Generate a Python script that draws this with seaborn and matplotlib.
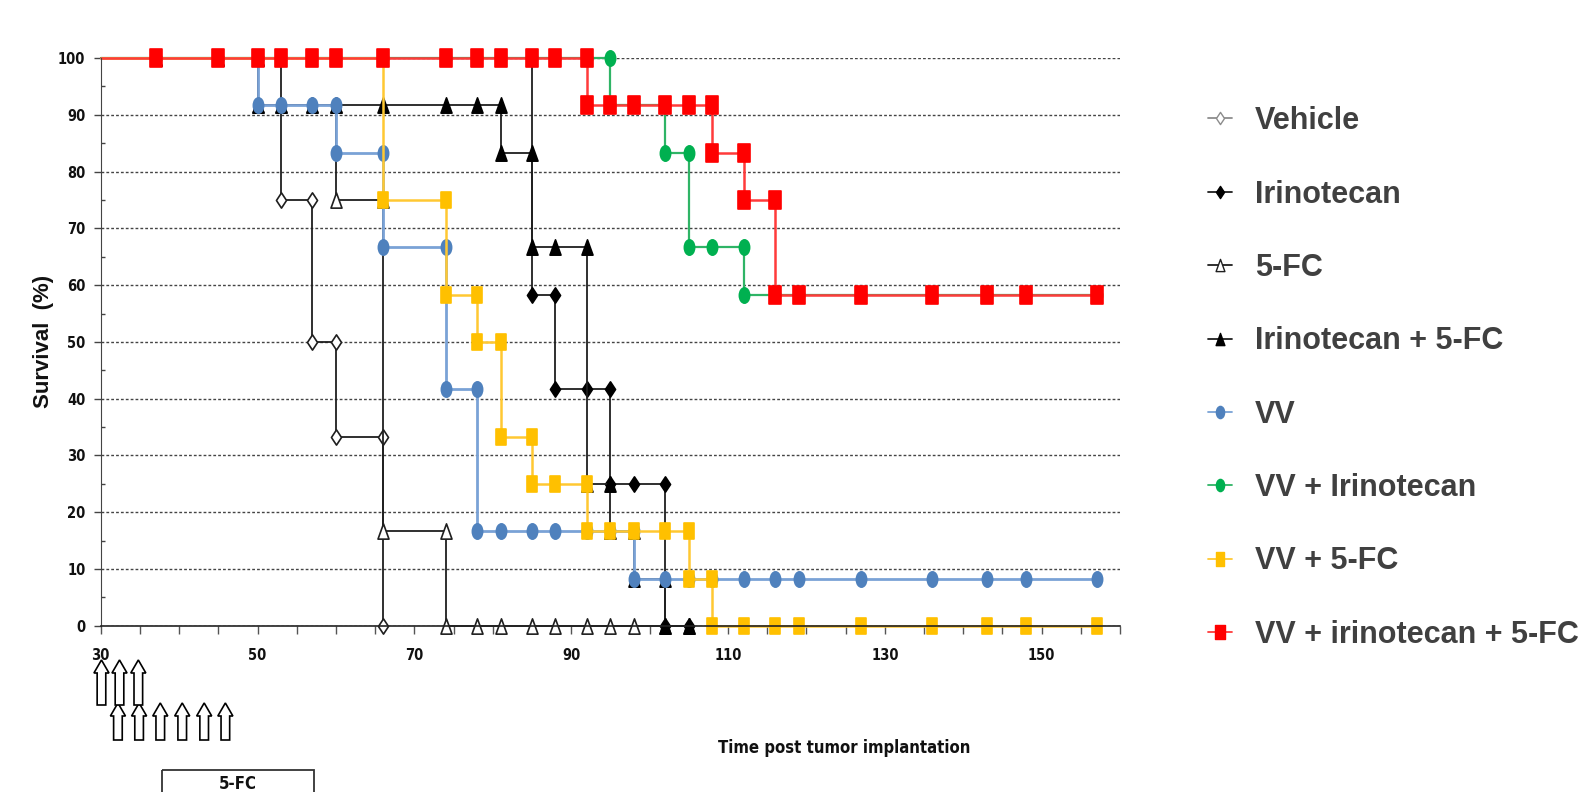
import numpy as np
import pandas as pd
import seaborn as sns
import matplotlib.pyplot as plt
from matplotlib import font_manager
from matplotlib.path import Path
from matplotlib.lines import Line2D
from matplotlib.patches import Polygon, Rectangle
from matplotlib.transforms import blended_transform_factory

# ==============================
# Survival data (days post implantation, % survival)
# ==============================
groups = ["Vehicle", "Irinotecan", "5-FC", "Irinotecan + 5-FC",
          "VV", "VV + Irinotecan", "VV + 5-FC", "VV + irinotecan + 5-FC"]

vehicle_days = [30, 37, 45, 50, 53, 53, 57, 57, 60, 60, 66, 66]
vehicle_surv = [100, 100, 100, 100, 100, 75, 75, 50, 50, 33.3, 33.3, 0]

irino_days = [30, 37, 45, 50, 53, 57, 60, 66, 74, 78, 81, 85, 85, 88, 88, 92,
              95, 95, 98, 102, 102, 105]
irino_surv = [100, 100, 100, 100, 100, 100, 100, 100, 100, 100, 100, 100, 58.3,
              58.3, 41.7, 41.7, 41.7, 25, 25, 25, 0, 0]

fc_days = [30, 37, 45, 50, 50, 53, 57, 60, 60, 66, 66, 74, 74, 78, 81, 85, 88,
           92, 95, 98, 102, 105]
fc_surv = [100, 100, 100, 100, 91.7, 91.7, 91.7, 91.7, 75, 75, 16.7, 16.7, 0,
           0, 0, 0, 0, 0, 0, 0, 0, 0]

irino_fc_days = [30, 37, 45, 50, 50, 53, 57, 60, 66, 74, 78, 81, 81, 85, 85,
                 88, 92, 92, 95, 95, 98, 98, 102, 102, 105]
irino_fc_surv = [100, 100, 100, 100, 91.7, 91.7, 91.7, 91.7, 91.7, 91.7, 91.7,
                 91.7, 83.3, 83.3, 66.7, 66.7, 66.7, 25, 25, 16.7, 16.7, 8.3,
                 8.3, 0, 0]

vv_days = [30, 37, 45, 50, 50, 53, 57, 60, 60, 66, 66, 74, 74, 78, 78, 81, 85,
           88, 92, 95, 98, 98, 102, 105, 108, 112, 116, 119, 127, 136, 143,
           148, 157]
vv_surv = [100, 100, 100, 100, 91.7, 91.7, 91.7, 91.7, 83.3, 83.3, 66.7, 66.7,
           41.7, 41.7, 16.7, 16.7, 16.7, 16.7, 16.7, 16.7, 16.7, 8.3, 8.3, 8.3,
           8.3, 8.3, 8.3, 8.3, 8.3, 8.3, 8.3, 8.3, 8.3]

vv_irino_days = [30, 37, 45, 50, 53, 57, 60, 66, 74, 78, 81, 85, 88, 92, 95,
                 95, 98, 102, 102, 105, 105, 108, 112, 112, 116, 119, 127, 136,
                 143, 148, 157]
vv_irino_surv = [100, 100, 100, 100, 100, 100, 100, 100, 100, 100, 100, 100,
                 100, 100, 100, 91.7, 91.7, 91.7, 83.3, 83.3, 66.7, 66.7, 66.7,
                 58.3, 58.3, 58.3, 58.3, 58.3, 58.3, 58.3, 58.3]

vv_fc_days = [30, 37, 45, 50, 53, 57, 60, 66, 66, 74, 74, 78, 78, 81, 81, 85,
              85, 88, 92, 92, 95, 98, 102, 105, 105, 108, 108, 112, 116, 119,
              127, 136, 143, 148, 157]
vv_fc_surv = [100, 100, 100, 100, 100, 100, 100, 100, 75, 75, 58.3, 58.3, 50,
              50, 33.3, 33.3, 25, 25, 25, 16.7, 16.7, 16.7, 16.7, 16.7, 8.3,
              8.3, 0, 0, 0, 0, 0, 0, 0, 0, 0]

vv_irino_fc_days = [30, 37, 45, 50, 53, 57, 60, 66, 74, 78, 81, 85, 88, 92, 92,
                    95, 98, 102, 105, 108, 108, 112, 112, 116, 116, 119, 127,
                    136, 143, 148, 157]
vv_irino_fc_surv = [100, 100, 100, 100, 100, 100, 100, 100, 100, 100, 100, 100,
                    100, 100, 91.7, 91.7, 91.7, 91.7, 91.7, 91.7, 83.3, 83.3,
                    75, 75, 58.3, 58.3, 58.3, 58.3, 58.3, 58.3, 58.3]

# dosing schedule shown under the x axis
vv_dose_days = [30.1, 32.4, 34.8]
drug_dose_days = [32.2, 34.9, 37.6, 40.4, 43.2, 45.9]
fc_period = [37.8, 57.2]

all_days = [vehicle_days, irino_days, fc_days, irino_fc_days,
            vv_days, vv_irino_days, vv_fc_days, vv_irino_fc_days]
all_surv = [vehicle_surv, irino_surv, fc_surv, irino_fc_surv,
            vv_surv, vv_irino_surv, vv_fc_surv, vv_irino_fc_surv]

df = pd.concat([pd.DataFrame({"group": g, "day": d, "surv": s})
                for g, d, s in zip(groups, all_days, all_surv)],
               ignore_index=True)

# ==============================
# Marker shapes (tall, as in the original)
# ==============================
circ = Path.unit_circle()
ellipse = Path(circ.vertices * [0.67, 1.0], circ.codes)
tall_square = Path([(-0.33, -0.5), (0.33, -0.5), (0.33, 0.5), (-0.33, 0.5), (-0.33, -0.5)],
                   [Path.MOVETO, Path.LINETO, Path.LINETO, Path.LINETO, Path.CLOSEPOLY])
diamond = Path([(0, 0.5), (0.33, 0), (0, -0.5), (-0.33, 0), (0, 0.5)],
               [Path.MOVETO, Path.LINETO, Path.LINETO, Path.LINETO, Path.CLOSEPOLY])
triangle = Path([(0, 0.5), (0.36, -0.5), (-0.36, -0.5), (0, 0.5)],
                [Path.MOVETO, Path.LINETO, Path.LINETO, Path.CLOSEPOLY])

styles = {
    "Vehicle": dict(color="#1f1f1f", marker=diamond, mfc="white", mec="#1f1f1f", ms=11, lw=1.3),
    "Irinotecan": dict(color="#1f1f1f", marker=diamond, mfc="black", mec="black", ms=11, lw=1.3),
    "5-FC": dict(color="#1f1f1f", marker=triangle, mfc="white", mec="#1f1f1f", ms=11, lw=1.3),
    "Irinotecan + 5-FC": dict(color="#1f1f1f", marker=triangle, mfc="black", mec="black", ms=11, lw=1.3),
    "VV": dict(color="#7aa2d6", marker=ellipse, mfc="#4f81bd", mec="#4f81bd", ms=11, lw=2.0),
    "VV + Irinotecan": dict(color="#2fb466", marker=ellipse, mfc="#00b050", mec="#00b050", ms=11, lw=1.6),
    "VV + 5-FC": dict(color="#ffc832", marker=tall_square, mfc="#ffc000", mec="#ffc000", ms=11.8, lw=1.8),
    "VV + irinotecan + 5-FC": dict(color="#ff3b3b", marker=tall_square, mfc="#ff0000", mec="#ff0000", ms=12.4, lw=1.8),
}

sns.set_style("ticks")
plt.rcParams["font.family"] = ["Liberation Sans", "DejaVu Sans"]

# pick a condensed face for the axis texts if one is installed
fonts = font_manager.fontManager.ttflist
if any(f.name == "Liberation Sans Narrow" for f in fonts):
    narrow = dict(fontfamily="Liberation Sans Narrow", fontstretch="normal")
    tick_size, xlab_size = 12, 14
elif any(f.name == "DejaVu Sans" and f.stretch == "condensed" for f in fonts):
    narrow = dict(fontfamily="DejaVu Sans", fontstretch="condensed")
    tick_size, xlab_size = 10.5, 12
else:
    narrow = dict(fontfamily="Liberation Sans", fontstretch="normal")
    tick_size, xlab_size = 11, 12

fig = plt.figure(figsize=(15.78, 7.92), dpi=100)
ax = fig.add_axes([0.0638, 0.2098, 0.646, 0.717])

for g in groups:
    st = styles[g]
    sub = df[df["group"] == g]
    sns.lineplot(data=sub, x="day", y="surv", ax=ax, sort=False, estimator=None,
                 color=st["color"], lw=st["lw"], marker=st["marker"],
                 markersize=st["ms"], markerfacecolor=st["mfc"],
                 markeredgecolor=st["mec"], markeredgewidth=1.2,
                 markevery=slice(1, None), clip_on=False, legend=False)

ax.set_xlim(30, 160)
ax.set_ylim(0, 100)
ax.set_xticks(range(30, 151, 20))
ax.set_xticks(range(30, 161, 5), minor=True)
ax.set_yticks(range(0, 101, 10))
ax.set_yticks(range(5, 100, 10), minor=True)

ax.grid(axis="y", which="major", linestyle=(0, (2, 1.5)), color="#444444", lw=1)
ax.set_axisbelow(True)

for side in ["top", "right"]:
    ax.spines[side].set_visible(False)
ax.spines["left"].set_color("#444444")
ax.spines["bottom"].set_color("#222222")
ax.spines["bottom"].set_linewidth(1.2)

ax.tick_params(axis="x", which="both", direction="out", length=6, width=1,
               color="#555555", pad=10)
ax.tick_params(axis="y", which="major", direction="out", length=5, width=1,
               color="#444444", pad=6)
ax.tick_params(axis="y", which="minor", direction="in", length=3, width=1,
               color="#444444")

for lab in ax.get_xticklabels() + ax.get_yticklabels():
    lab.set_fontfamily(narrow["fontfamily"])
    lab.set_fontstretch(narrow["fontstretch"])
    lab.set_fontweight("bold")
    lab.set_fontsize(tick_size)
    lab.set_color("#111111")

ax.set_xlabel("Time post tumor implantation", fontweight="bold",
              fontsize=xlab_size, color="#111111", **narrow)
ax.xaxis.set_label_coords(0.729, -0.2)
ax.set_ylabel("Survival  (%)", fontweight="bold", fontsize=16, color="#111111")
ax.yaxis.set_label_coords(-0.046, 0.5)

# ==============================
# Legend
# ==============================
handles = []
for g in groups:
    st = styles[g]
    grey = g == "Vehicle"
    handles.append(Line2D([], [], color="#8c8c8c" if grey else st["color"], lw=1.3,
                          marker=st["marker"], markersize=st["ms"] * 0.8,
                          markerfacecolor=st["mfc"],
                          markeredgecolor="#8c8c8c" if grey else st["mec"],
                          markeredgewidth=1.0))
leg = ax.legend(handles, groups, loc="upper left", bbox_to_anchor=(0.7655, 0.866),
                bbox_transform=fig.transFigure, frameon=False,
                prop={"weight": "bold", "size": 22}, labelspacing=1.42,
                handlelength=0.8, handletextpad=0.73, borderpad=0,
                borderaxespad=0, numpoints=1)
for t in leg.get_texts():
    t.set_color("#404040")

# ==============================
# Dosing arrows and 5-FC box
# ==============================
trans = blended_transform_factory(ax.transData, fig.transFigure)
H = 792.0


def up_arrow(xc, top_px, bot_px):
    hw, sw, head = 0.96, 0.55, 13
    yt = 1 - top_px / H
    yb = 1 - bot_px / H
    yh = 1 - (top_px + head) / H
    pts = [(xc - sw, yb), (xc + sw, yb), (xc + sw, yh), (xc + hw, yh),
           (xc, yt), (xc - hw, yh), (xc - sw, yh)]
    fig.add_artist(Polygon(pts, closed=True, facecolor="white", edgecolor="black",
                           lw=1.2, transform=trans, clip_on=False))


for d in drug_dose_days:
    up_arrow(d, 703, 740)
for d in vv_dose_days:
    up_arrow(d, 660, 705)

fig.add_artist(Rectangle((fc_period[0], 1 - 770 / H), fc_period[1] - fc_period[0], -0.1,
                         facecolor="none", edgecolor="#333333", lw=1.3,
                         transform=trans, clip_on=False))
fig.text(np.mean(fc_period), 1 - 789 / H, "5-FC", transform=trans, ha="center",
         va="baseline", fontweight="bold", fontsize=12, color="#111111", **narrow)

fig.savefig("out.png", dpi=100)
